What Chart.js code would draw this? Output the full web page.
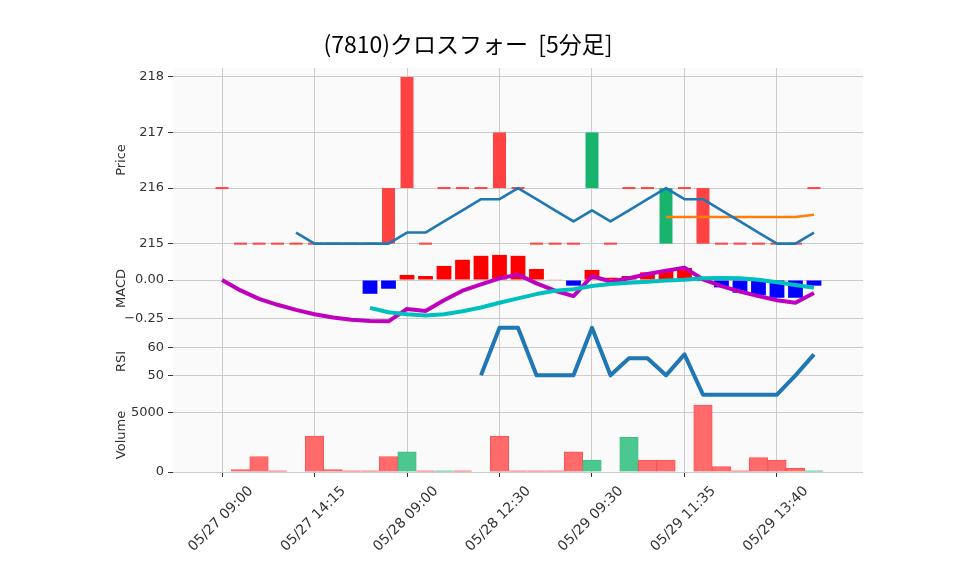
<!DOCTYPE html>
<html>
<head>
<meta charset="utf-8">
<script src="https://cdn.jsdelivr.net/npm/chart.js@4.4.0/dist/chart.umd.min.js"></script>
<style>
  html, body { margin: 0; padding: 0; background: #fff; }
</style>
</head>
<body>
<canvas id="grafico" width="958" height="575"></canvas>
<script>
// Datos (velas de 5 minutos)
const titulo = '(7810)クロスフォー  [5分足]';
const horas = [
  '05/27 09:00', '05/27 09:10', '05/27 09:25', '05/27 10:05', '05/27 10:30',
  '05/27 14:15', '05/27 14:30', '05/27 14:45', '05/27 15:00', '05/27 15:20',
  '05/28 09:00', '05/28 09:05', '05/28 09:25', '05/28 10:10', '05/28 10:40',
  '05/28 12:30', '05/28 13:05', '05/28 13:50', '05/28 14:35', '05/28 15:10',
  '05/29 09:30', '05/29 09:45', '05/29 10:00', '05/29 10:20', '05/29 10:55',
  '05/29 11:35', '05/29 12:30', '05/29 12:45', '05/29 13:05', '05/29 13:25',
  '05/29 13:40', '05/29 14:15', '05/29 14:50'
];
const aperturas = [216, 215, 215, 215, 215, 215, 215, 215, 215, 216,
                   218, 215, 216, 216, 216, 217, 216, 215, 215, 215,
                   216, 215, 216, 216, 215, 216, 216, 215, 215, 215,
                   215, 215, 216];
const cierres = [216, 215, 215, 215, 215, 215, 215, 215, 215, 215,
                 216, 215, 216, 216, 216, 216, 216, 215, 215, 215,
                 217, 215, 216, 216, 216, 216, 215, 215, 215, 215,
                 215, 215, 216];
const sma5 = [null, null, null, null, 215.2, 215, 215, 215, 215, 215,
              215.2, 215.2, 215.4, 215.6, 215.8, 215.8, 216, 215.8, 215.6, 215.4,
              215.6, 215.4, 215.6, 215.8, 216, 215.8, 215.8, 215.6, 215.4, 215.2,
              215, 215, 215.2];
const sma25 = [null, null, null, null, null, null, null, null, null, null,
               null, null, null, null, null, null, null, null, null, null,
               null, null, null, null, 215.48, 215.48, 215.48, 215.48, 215.48, 215.48,
               215.48, 215.48, 215.52];
const macd = [0, -0.068, -0.123, -0.162, -0.195, -0.224, -0.245, -0.26, -0.268, -0.27,
              -0.189, -0.202, -0.132, -0.07, -0.029, 0.011, 0.035, -0.022, -0.07, -0.105,
              0.026, -0.011, 0.011, 0.039, 0.061, 0.081, 0.004, -0.04, -0.075, -0.105,
              -0.132, -0.149, -0.085];
const senal = [null, null, null, null, null, null, null, null, -0.182, -0.211,
               -0.224, -0.232, -0.224, -0.204, -0.18, -0.149, -0.12, -0.092, -0.07, -0.061,
               -0.039, -0.026, -0.018, -0.011, -0.004, 0.002, 0.011, 0.013, 0.012, 0.002,
               -0.015, -0.033, -0.051];
const histograma = [null, null, null, null, null, null, null, null, -0.09, -0.057,
                    0.033, 0.026, 0.092, 0.132, 0.158, 0.164, 0.158, 0.072, 0.004, -0.037,
                    0.066, 0.015, 0.026, 0.05, 0.065, 0.079, -0.007, -0.048, -0.083, -0.099,
                    -0.116, -0.116, -0.037];
const rsi = [null, null, null, null, null, null, null, null, null, null,
             null, null, null, null, 50, 67, 67, 50, 50, 50,
             67, 50, 56.1, 56.1, 50, 57.5, 43.1, 43.1, 43.1, 43.1,
             43.1, 50, 57.5];
const volumen = [0, 200, 1300, 100, 0, 3000, 200, 100, 100, 1300,
                 1700, 100, 100, 100, 0, 3000, 100, 100, 100, 1700,
                 1000, 0, 2900, 1000, 1000, 0, 5600, 450, 100, 1200,
                 1000, 300, 100];

const ticksX = [0, 5, 10, 15, 20, 25, 30];
const ticksPrecio = [215, 216, 217, 218];
const ticksMacd = [-0.25, 0];
const ticksRsi = [50, 60];
const ticksVol = [0, 5000];

// ---- construcción de datasets ----
const puntos = (serie) => serie.map((v, i) => ({x: i, y: v}));
const velas = cierres.map((c, i) => {
  const o = aperturas[i];
  return {x: i, y: o === c ? [o - 0.018, o + 0.018] : [o, c]};
});
const colorVelas = cierres.map((c, i) => c > aperturas[i] ? '#18b46d' : '#ff4242');
const colorVol = cierres.map((c, i) => i > 0 && c > cierres[i - 1] ? '#4cc790' : '#ff6b6b');
const bordeVol = cierres.map((c, i) => i > 0 && c > cierres[i - 1] ? '#3fbf84' : '#ff5252');
const colorHist = histograma.map(v => v !== null && v < 0 ? '#0000ff' : '#ff0000');

const ejeY = (min, max, lista, texto, peso, formato) => ({
  type: 'linear',
  position: 'left',
  stack: 'paneles',
  stackWeight: peso,
  min: min,
  max: max,
  afterBuildTicks: (eje) => { eje.ticks = lista.map(v => ({value: v})); },
  afterFit: (eje) => { eje.width = 63; },
  title: { display: true, text: texto, color: '#333', font: {size: 13}, padding: {top: 4, bottom: 0} },
  ticks: { callback: formato, color: '#333', padding: 4, font: {size: 13} },
  grid: { color: '#cccccc', tickColor: '#333', tickLength: 5 },
  border: { display: false }
});

const fondoPaneles = {
  id: 'fondoPaneles',
  beforeDraw: (chart) => {
    const {ctx, chartArea} = chart;
    ctx.save();
    ctx.fillStyle = '#fafafa';
    ['yPrecio', 'yMacd', 'yRsi', 'yVol'].forEach(id => {
      const s = chart.scales[id];
      ctx.fillRect(chartArea.left, s.top, chartArea.width, s.height);
    });
    ctx.restore();
  }
};

const tituloPlugin = {
  id: 'tituloPlugin',
  afterDraw: (chart) => {
    const ctx = chart.ctx;
    ctx.save();
    ctx.font = '23px "Noto Sans CJK JP"';
    ctx.fillStyle = '#000';
    ctx.textAlign = 'center';
    ctx.textBaseline = 'middle';
    ctx.fillText(titulo, 468, 44);
    ctx.restore();
  }
};

Chart.defaults.font.family = '"DejaVu Sans"';

const ctx = document.getElementById('grafico').getContext('2d');
const myChart = new Chart(ctx, {
  type: 'bar',
  data: {
    datasets: [
      { type: 'line', data: puntos(sma5), yAxisID: 'yPrecio', borderColor: '#1f77b4', borderWidth: 2.6,
        pointRadius: 0, borderJoinStyle: 'round', order: 0 },
      { type: 'line', data: puntos(sma25), yAxisID: 'yPrecio', borderColor: '#ff7f0e', borderWidth: 2.6,
        pointRadius: 0, borderJoinStyle: 'round', order: 0 },
      { type: 'bar', data: velas, yAxisID: 'yPrecio', backgroundColor: colorVelas, borderWidth: 0,
        barPercentage: 0.7, categoryPercentage: 1, grouped: false, order: 2 },
      { type: 'line', data: puntos(senal), yAxisID: 'yMacd', borderColor: '#00bfbf', borderWidth: 4,
        pointRadius: 0, borderJoinStyle: 'round', order: 0 },
      { type: 'line', data: puntos(macd), yAxisID: 'yMacd', borderColor: '#bf00bf', borderWidth: 4,
        pointRadius: 0, borderJoinStyle: 'round', order: 1 },
      { type: 'bar', data: puntos(histograma), yAxisID: 'yMacd', backgroundColor: colorHist, borderWidth: 0,
        barPercentage: 0.8, categoryPercentage: 1, grouped: false, order: 2 },
      { type: 'line', data: puntos(rsi), yAxisID: 'yRsi', borderColor: '#1f77b4', borderWidth: 4,
        pointRadius: 0, borderJoinStyle: 'round', order: 0 },
      { type: 'bar', data: puntos(volumen), yAxisID: 'yVol', backgroundColor: colorVol, borderColor: bordeVol,
        borderWidth: 1, barPercentage: 1, categoryPercentage: 1, grouped: false, order: 2 }
    ]
  },
  options: {
    responsive: false,
    animation: false,
    layout: { padding: { left: 110, right: 95, top: 68, bottom: 0 } },
    plugins: { legend: { display: false }, tooltip: { enabled: false } },
    scales: {
      x: {
        type: 'linear',
        offset: false,
        min: -2.65,
        max: 34.65,
        afterBuildTicks: (eje) => { eje.ticks = ticksX.map(v => ({value: v})); },
        afterFit: (eje) => { eje.height = 103; },
        ticks: { callback: (v) => horas[v], color: '#333', font: {size: 14}, minRotation: 45, maxRotation: 45,
                 autoSkip: false, labelOffset: 29, padding: 6 },
        grid: { offset: false, color: '#cccccc', tickColor: '#333', tickLength: 5 },
        border: { display: false }
      },
      yVol: ejeY(0, 6200, ticksVol, 'Volume', 74, (v) => String(v)),
      yRsi: ejeY(41.9, 68, ticksRsi, 'RSI', 73, (v) => String(v)),
      yMacd: ejeY(-0.294, 0.183, ticksMacd, 'MACD', 73, (v) => (v < 0 ? '\u2212' : '') + Math.abs(v).toFixed(2)),
      yPrecio: ejeY(214.85, 218.16, ticksPrecio, 'Price', 184, (v) => String(v))
    }
  },
  plugins: [fondoPaneles, tituloPlugin]
});
</script>
</body>
</html>
